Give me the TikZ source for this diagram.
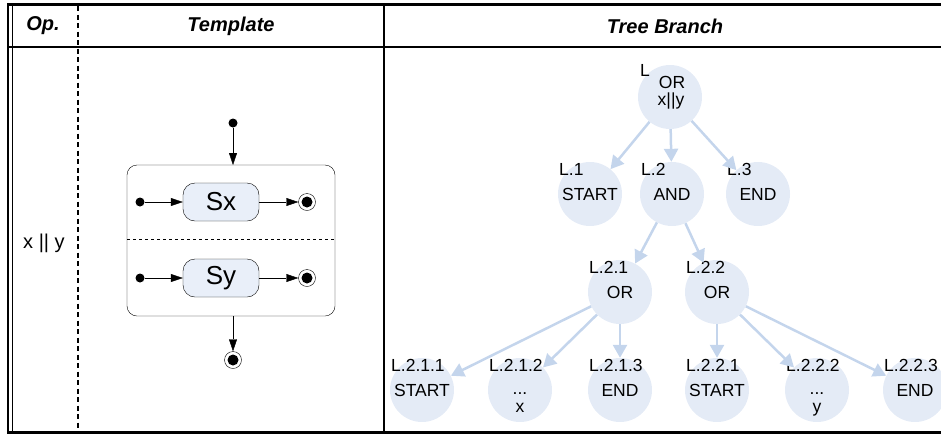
\documentclass[tikz,border=0pt]{standalone}
\usepackage{fontspec}
\setmainfont{Liberation Sans}
\usetikzlibrary{arrows.meta}
\definecolor{nodefill}{HTML}{E4EBF6}
\definecolor{edgeblue}{HTML}{C4D5EC}
\definecolor{statefill}{HTML}{E9EFF9}
\begin{document}
\begin{tikzpicture}[x=1pt,y=-1pt,
    hdr/.style={font=\fontsize{20}{22}\selectfont\bfseries\itshape},
    tnode/.style={circle,fill=nodefill,minimum size=64pt,inner sep=0pt,font=\fontsize{17.5}{18}\selectfont},
    ttext/.style={anchor=base,inner sep=0pt,font=\fontsize{17.5}{18}\selectfont},
    tlabel/.style={anchor=west,inner sep=0pt,font=\fontsize{17.5}{18}\selectfont},
    tedge/.style={edgeblue,line width=2.5pt,-{Triangle[width=14pt,length=13pt]}},
    state/.style={draw,rounded corners=12pt,fill=statefill,minimum width=76pt,minimum height=38pt,font=\fontsize{26}{28}\selectfont},
    initdot/.style={circle,fill=black,minimum size=9pt,inner sep=0pt},
    finaldot/.style={circle,draw,fill=white,minimum size=17pt,inner sep=0pt,
      path picture={\fill[black] (path picture bounding box.center) circle (5.5pt);}},
    flow/.style={-{Triangle[width=8pt,length=12pt]}}
  ]
  \useasboundingbox (0,0) rectangle (941,437);
  % header
  \node[hdr] (hop) at (43,26) {Op.};
  \node[hdr] (htpl) at (231,26) {Template};
  \node[hdr] (htree) at (665,26) {Tree Branch};
  \node[font=\fontsize{20}{22}\selectfont] (op) at (44,243) {x || y};
  % template
  \node[initdot] (top) at (233,123) {};
  \draw[rounded corners=10pt] (127,165) rectangle (335,316);
  \coordinate (boxn) at (233,165);
  \coordinate (boxs) at (233,316);
  \draw[dashed] (127,239) -- (335,239);
  \node[state] (sx) at (221,202) {Sx};
  \node[state] (sy) at (221,278) {Sy};
  \node[initdot] (ix) at (140,202) {};
  \node[initdot] (iy) at (140,278) {};
  \node[finaldot] (fx) at (307,202) {};
  \node[finaldot] (fy) at (307,278) {};
  \node[finaldot] (fend) at (233,360) {};
  \draw[flow] (top) -- (boxn);
  \draw[flow] (ix) -- (sx);
  \draw[flow] (sx) -- (fx);
  \draw[flow] (iy) -- (sy);
  \draw[flow] (sy) -- (fy);
  \draw[flow] (boxs) -- (fend);
  % tree branch
  \node[tnode] (l) at (670,97) {};
  \node[tnode] (l1) at (590,194) {START};
  \node[tnode] (l2) at (672,194) {AND};
  \node[tnode] (l3) at (758,194) {END};
  \node[tnode] (l21) at (620,292) {OR};
  \node[tnode] (l22) at (717,292) {OR};
  \node[tnode] (l211) at (422,390) {START};
  \node[tnode] (l212) at (520,390) {};
  \node[tnode] (l213) at (620,390) {END};
  \node[tnode] (l221) at (717,390) {START};
  \node[tnode] (l222) at (817,390) {};
  \node[tnode] (l223) at (915,390) {END};
  \node[ttext] (lop) at (672,88) {OR};
  \node[ttext] (lexpr) at (671,105) {x||y};
  \node[ttext] (l212dots) at (520,394) {...};
  \node[ttext] (l212x) at (520,412) {x};
  \node[ttext] (l222dots) at (817,394) {...};
  \node[ttext] (l222y) at (817,412) {y};
  \node[tlabel] at ([shift={(-30,-27)}]l.center) {L};
  \node[tlabel] at ([shift={(-31,-25)}]l1.center) {L.1};
  \node[tlabel] at ([shift={(-31,-25)}]l2.center) {L.2};
  \node[tlabel] at ([shift={(-31,-25)}]l3.center) {L.3};
  \node[tlabel] at ([shift={(-31,-25)}]l21.center) {L.2.1};
  \node[tlabel] at ([shift={(-31,-25)}]l22.center) {L.2.2};
  \node[tlabel] at ([shift={(-31,-25)}]l211.center) {L.2.1.1};
  \node[tlabel] at ([shift={(-31,-25)}]l212.center) {L.2.1.2};
  \node[tlabel] at ([shift={(-31,-25)}]l213.center) {L.2.1.3};
  \node[tlabel] at ([shift={(-31,-25)}]l221.center) {L.2.2.1};
  \node[tlabel] at ([shift={(-31,-25)}]l222.center) {L.2.2.2};
  \node[tlabel] at ([shift={(-31,-25)}]l223.center) {L.2.2.3};
  \draw[tedge] (l) -- (l1);
  \draw[tedge] (l) -- (l2);
  \draw[tedge] (l) -- (l3);
  \draw[tedge] (l2) -- (l21);
  \draw[tedge] (l2) -- (l22);
  \draw[tedge] (l21) -- (l211);
  \draw[tedge] (l21) -- (l212);
  \draw[tedge] (l21) -- (l213);
  \draw[tedge] (l22) -- (l221);
  \draw[tedge] (l22) -- (l222);
  \draw[tedge] (l22) -- (l223);
  % table rules
  \draw[line width=3pt] (8,4.5) -- (941,4.5);
  \draw[line width=2.5pt] (8,47) -- (941,47);
  \draw[line width=3pt] (8,432) -- (941,432);
  \draw[line width=1.2pt] (8,3) -- (8,433.5);
  \draw[line width=1.2pt] (12.5,3) -- (12.5,433.5);
  \draw[line width=2pt,dash pattern=on 5pt off 3.5pt] (78,6) -- (78,431);
  \draw[line width=2pt] (384,4) -- (384,432);
\end{tikzpicture}
\end{document}
